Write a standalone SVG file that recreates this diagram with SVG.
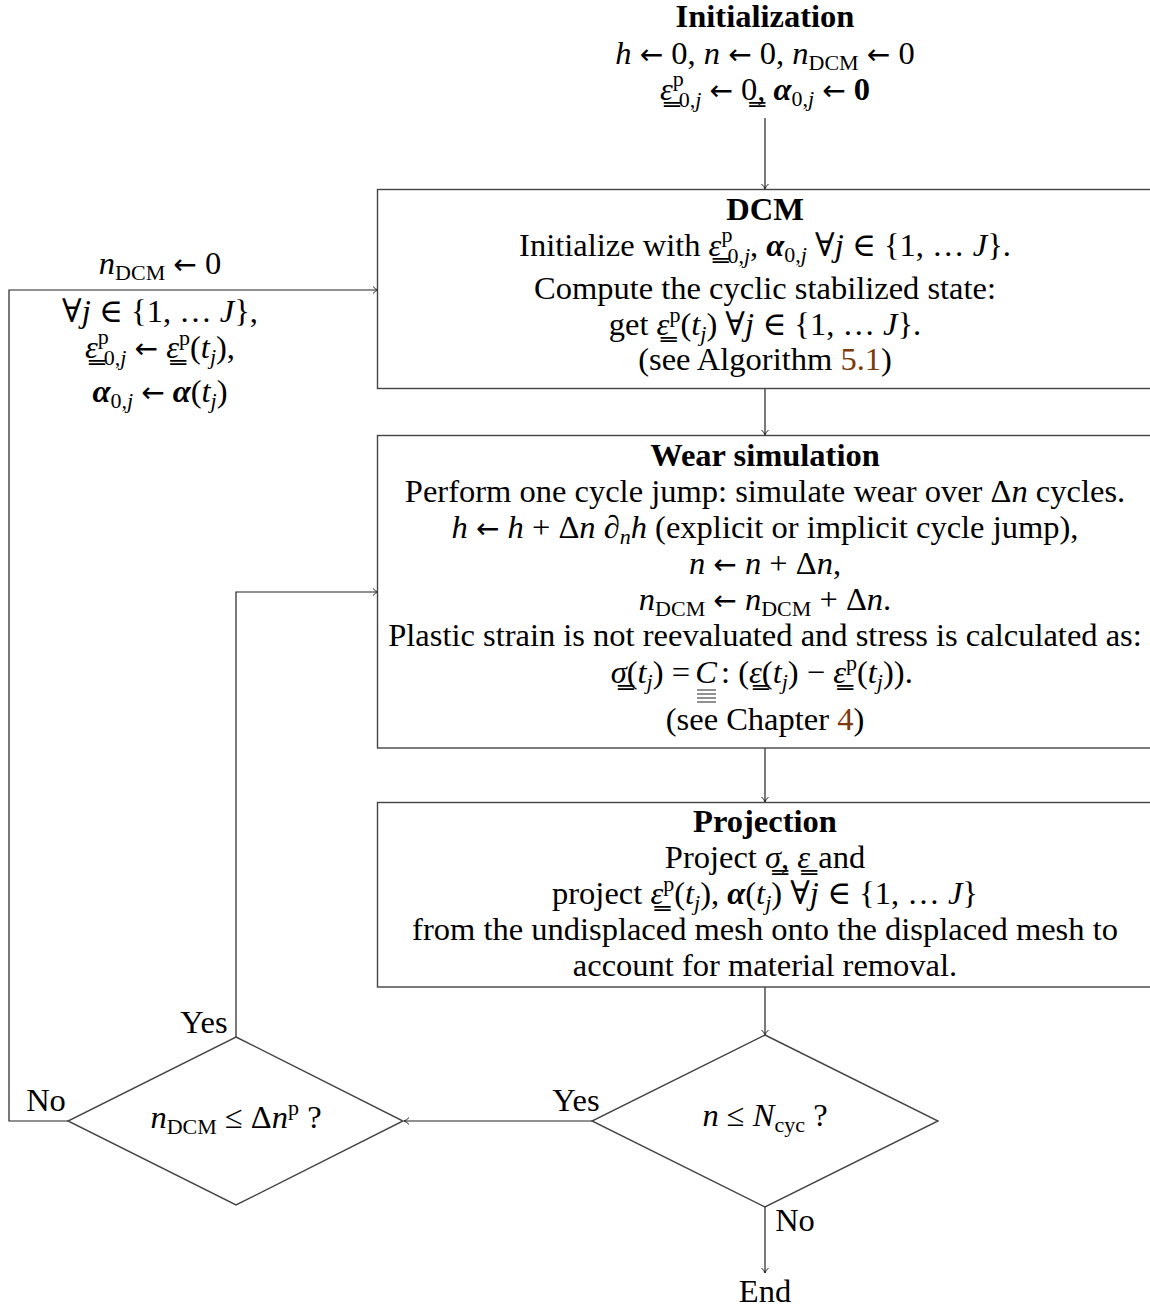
<svg xmlns="http://www.w3.org/2000/svg" width="1150" height="1308" viewBox="0 0 1150 1308">
<style>
.t{font-family:'Liberation Serif','DejaVu Serif',serif;font-size:32.5px;fill:#000;text-anchor:middle}
.b{font-weight:bold}
.i{font-style:italic}
.bi{font-style:italic;font-weight:bold}
.s{font-size:22px}
.ar{font-family:'DejaVu Sans',sans-serif;font-size:28px}
.ref{fill:#7b3a0c}
.box{fill:#fff;stroke:#444;stroke-width:1.4}
.edge{fill:none;stroke:#222;stroke-width:1.2;marker-end:url(#arr)}
.line{fill:none;stroke:#222;stroke-width:1}
</style>
<defs>
<marker id="arr" markerUnits="userSpaceOnUse" markerWidth="10" markerHeight="10" refX="6" refY="4" orient="auto">
<path d="M1,0.5 Q3,3 6,4 Q3,5 1,7.5" fill="none" stroke="#222" stroke-width="1"/>
</marker>
</defs>
<rect width="1150" height="1308" fill="#fff"/>

<g id="connectors">
<path class="edge" d="M765,118 V189"/>
<path class="edge" d="M765,389 V435"/>
<path class="edge" d="M765,748 V802"/>
<path class="edge" d="M765,987 V1035"/>
<path class="edge" d="M592,1121 H404"/>
<path class="edge" d="M236,1037 V592 H378"/>
<path class="edge" d="M68,1121 H9 V290 H378"/>
<path class="edge" d="M765,1207 V1273"/>
<text class="t" x="160" y="274"><tspan class="i">n</tspan><tspan class="s" dy="6">DCM</tspan><tspan dy="-6"> <tspan class="ar">←</tspan> 0</tspan></text>
<text class="t" x="160" y="322">∀<tspan class="i">j</tspan> ∈ {1, … <tspan class="i">J</tspan>},</text>
<text class="t" x="160" y="358"><tspan class="i">ε̳</tspan><tspan class="s" dy="-14">p</tspan><tspan class="s" dx="-5" dy="21">0,<tspan class="i">j</tspan></tspan><tspan dy="-7"> <tspan class="ar">←</tspan> </tspan><tspan class="i">ε̳</tspan><tspan class="s" dy="-13">p</tspan><tspan dy="13">(<tspan class="i">t</tspan></tspan><tspan class="s i" dy="6">j</tspan><tspan dy="-6">),</tspan></text>
<text class="t" x="160" y="402"><tspan class="bi">α</tspan><tspan class="s" dy="6">0,<tspan class="i">j</tspan></tspan><tspan dy="-6"> <tspan class="ar">←</tspan> </tspan><tspan class="bi">α</tspan>(<tspan class="i">t</tspan><tspan class="s i" dy="6">j</tspan><tspan dy="-6">)</tspan></text>
<text class="t" x="576" y="1111">Yes</text>
<text class="t" x="204" y="1033">Yes</text>
<text class="t" x="46" y="1111">No</text>
<text class="t" x="795" y="1231">No</text>
</g>

<g id="init">
<text class="t b" x="765" y="27">Initialization</text>
<text class="t" x="765" y="64"><tspan class="i">h</tspan> <tspan class="ar">←</tspan> 0, <tspan class="i">n</tspan> <tspan class="ar">←</tspan> 0, <tspan class="i">n</tspan><tspan class="s" dy="6">DCM</tspan><tspan dy="-6"> <tspan class="ar">←</tspan> 0</tspan></text>
<text class="t" x="765" y="100"><tspan class="i">ε̳</tspan><tspan class="s" dy="-14">p</tspan><tspan class="s" dx="-5" dy="21">0,<tspan class="i">j</tspan></tspan><tspan dy="-7"> <tspan class="ar">←</tspan> 0̳, </tspan><tspan class="bi">α</tspan><tspan class="s" dy="6">0,<tspan class="i">j</tspan></tspan><tspan dy="-6"> <tspan class="ar">←</tspan> </tspan><tspan class="b">0</tspan></text>
</g>

<g id="dcm">
<rect class="box" x="377.5" y="189.5" width="800" height="199"/>
<text class="t b" x="765" y="220">DCM</text>
<text class="t" x="765" y="256">Initialize with <tspan class="i">ε̳</tspan><tspan class="s" dy="-14">p</tspan><tspan class="s" dx="-5" dy="21">0,<tspan class="i">j</tspan></tspan><tspan dy="-7">, </tspan><tspan class="bi">α</tspan><tspan class="s" dy="6">0,<tspan class="i">j</tspan></tspan><tspan dy="-6"> ∀</tspan><tspan class="i">j</tspan> ∈ {1, … <tspan class="i">J</tspan>}.</text>
<text class="t" x="765" y="299">Compute the cyclic stabilized state:</text>
<text class="t" x="765" y="335">get <tspan class="i">ε̳</tspan><tspan class="s" dy="-13">p</tspan><tspan dy="13">(<tspan class="i">t</tspan></tspan><tspan class="s i" dy="6">j</tspan><tspan dy="-6">) ∀</tspan><tspan class="i">j</tspan> ∈ {1, … <tspan class="i">J</tspan>}.</text>
<text class="t" x="765" y="370">(see Algorithm <tspan class="ref">5.1</tspan>)</text>
</g>

<g id="wear">
<rect class="box" x="377.5" y="435.5" width="800" height="312.5"/>
<text class="t b" x="765" y="466">Wear simulation</text>
<text class="t" x="765" y="502">Perform one cycle jump: simulate wear over Δ<tspan class="i">n</tspan> cycles.</text>
<text class="t" x="765" y="538"><tspan class="i">h</tspan> <tspan class="ar">←</tspan> <tspan class="i">h</tspan> + Δ<tspan class="i">n</tspan> ∂<tspan class="s i" dy="6">n</tspan><tspan class="i" dy="-6">h</tspan> (explicit or implicit cycle jump),</text>
<text class="t" x="765" y="574"><tspan class="i">n</tspan> <tspan class="ar">←</tspan> <tspan class="i">n</tspan> + Δ<tspan class="i">n</tspan>,</text>
<text class="t" x="765" y="610"><tspan class="i">n</tspan><tspan class="s" dy="6">DCM</tspan><tspan dy="-6"> <tspan class="ar">←</tspan> </tspan><tspan class="i">n</tspan><tspan class="s" dy="6">DCM</tspan><tspan dy="-6"> + Δ</tspan><tspan class="i">n</tspan>.</text>
<text class="t" x="765" y="646">Plastic strain is not reevaluated and stress is calculated as:</text>
<text class="t" x="690" y="683" style="text-anchor:end"><tspan class="i">σ̳</tspan>(<tspan class="i">t</tspan><tspan class="s i" dy="6">j</tspan><tspan dy="-6">) =</tspan></text>
<text class="t i" x="706" y="683">C</text>
<path class="line" d="M697,690 H716 M697,694 H716 M697,698 H716 M697,702 H716"/>
<text class="t" x="721" y="683" style="text-anchor:start">: (<tspan class="i">ε̳</tspan>(<tspan class="i">t</tspan><tspan class="s i" dy="6">j</tspan><tspan dy="-6">) − </tspan><tspan class="i">ε̳</tspan><tspan class="s" dy="-13">p</tspan><tspan dy="13">(<tspan class="i">t</tspan></tspan><tspan class="s i" dy="6">j</tspan><tspan dy="-6">)).</tspan></text>
<text class="t" x="765" y="730">(see Chapter <tspan class="ref">4</tspan>)</text>
</g>

<g id="projection">
<rect class="box" x="377.5" y="802.5" width="800" height="184.5"/>
<text class="t b" x="765" y="832">Projection</text>
<text class="t" x="765" y="868">Project <tspan class="i">σ̳</tspan>, <tspan class="i">ε̳</tspan> and</text>
<text class="t" x="765" y="904">project <tspan class="i">ε̳</tspan><tspan class="s" dy="-13">p</tspan><tspan dy="13">(<tspan class="i">t</tspan></tspan><tspan class="s i" dy="6">j</tspan><tspan dy="-6">), </tspan><tspan class="bi">α</tspan>(<tspan class="i">t</tspan><tspan class="s i" dy="6">j</tspan><tspan dy="-6">) ∀</tspan><tspan class="i">j</tspan> ∈ {1, … <tspan class="i">J</tspan>}</text>
<text class="t" x="765" y="940">from the undisplaced mesh onto the displaced mesh to</text>
<text class="t" x="765" y="976">account for material removal.</text>
</g>

<g id="check-n">
<path class="box" d="M765,1035 L938,1121 L765,1207 L592,1121 Z" fill="none"/>
<text class="t" x="765" y="1126"><tspan class="i">n</tspan> ≤ <tspan class="i">N</tspan><tspan class="s" dy="6">cyc</tspan><tspan dy="-6"> ?</tspan></text>
</g>

<g id="check-dcm">
<path class="box" d="M236,1037 L403,1121 L236,1205 L68,1121 Z" fill="none"/>
<text class="t" x="236" y="1128"><tspan class="i">n</tspan><tspan class="s" dy="6">DCM</tspan><tspan dy="-6"> ≤ Δ</tspan><tspan class="i">n</tspan><tspan class="s" dy="-13">p</tspan><tspan dy="13"> ?</tspan></text>
</g>

<g id="end">
<text class="t" x="765" y="1302">End</text>
</g>
</svg>
